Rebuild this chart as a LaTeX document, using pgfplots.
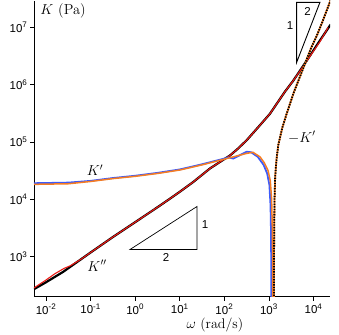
\documentclass[border=0pt]{standalone}
\usepackage{fontspec}
\setsansfont{Liberation Sans}
\usepackage{pgfplots}
\pgfplotsset{compat=1.18}
\definecolor{kblue}{RGB}{60,90,250}
\definecolor{korange}{RGB}{245,125,35}
\definecolor{kred}{RGB}{235,25,20}
\begin{document}
\begin{tikzpicture}
\begin{axis}[
 scale only axis, width=296pt, height=296pt,
 xmode=log, ymode=log, log basis x=10, log basis y=10,
 xmin=5.37e-3, xmax=2.34e4, ymin=200, ymax=2.95e7,
 axis lines=left, axis line style={-, line width=0.7pt},
 tick align=outside, major tick length=4pt, minor tick length=2.5pt,
 every tick/.style={black, line width=0.6pt},
 xtick={1e-2,1e-1,1,1e1,1e2,1e3,1e4},
 ytick={1e3,1e4,1e5,1e6,1e7},
 xticklabel={10\textsuperscript{\pgfmathtruncatemacro\e{round(\tick)}\e}},
 yticklabel={10\textsuperscript{\pgfmathtruncatemacro\e{round(\tick)}\e}},
 ticklabel style={font=\fontsize{11.5}{13}\selectfont\sffamily},
 yticklabel style={xshift=1pt},
 clip mode=individual,
]
% K'' black
\addplot[black, line width=2.2pt] coordinates {
(5.37e-3,269) (1e-2,355) (2.4e-2,537) (0.1,1175) (0.316,2188) (1,3981) (3.16,7244) (6.03,10230) (10,13490) (19.95,19950) (47.5,34430) (79.4,44670) (133.7,58080) (199.5,75860) (316.2,107150) (562.3,177830) (1047,309030) (2291,758580) (3508,1.175e6) (5888,2.138e6) (8222,3.162e6) (14125,6.026e6) (24155,1.122e7)
};
% K'' red
\addplot[kred, line width=1.1pt] coordinates {
(5.37e-3,282) (1e-2,389) (1.585e-2,501) (2.512e-2,617) (3.548e-2,692) (6.31e-2,912) (0.1,1175) (0.316,2188) (1,3981) (3.16,7244) (6.03,10230) (10,13490) (19.95,19950) (47.5,34430) (79.4,44670) (133.7,58080) (199.5,75860) (316.2,107150) (562.3,177830) (1047,309030) (2291,758580) (3508,1.175e6) (5888,2.1e6) (8222,3.09e6) (14125,5.75e6) (21300,1.0e7)
};
% K' blue
\addplot[kblue, line width=1.8pt] coordinates {
(5.37e-3,19050) (0.0316,19500) (0.1,20900) (0.316,23440) (1,25700) (3.16,28840) (10,33110) (31.6,40740) (100,51290) (125.9,53700) (158.5,51300) (223.9,58880) (316.2,67610) (398,66070) (562,54950) (758.6,39810) (912,28180) (1023,17780) (1084,7943) (1109,3000) (1122,1000) (1127,300) (1129,60)
};
% K' orange
\addplot[korange, line width=1.5pt] coordinates {
(5.37e-3,18200) (0.0316,18620) (0.1,20420) (0.316,22910) (1,25120) (3.16,28180) (10,32360) (31.6,39810) (100,50120) (199.5,57540) (316.2,63100) (436.5,66070) (631,54950) (794.3,42660) (955,31620) (1072,20890) (1148,10000) (1189,3162) (1205,1000) (1213,400) (1216,80)
};
% -K' orange + black dotted
\addplot[korange, line width=1.8pt] coordinates {
(1295,80) (1297,400) (1300,1000) (1312,3162) (1334,10000) (1380,25120) (1479,50120) (1622,89130) (1995,177830) (2512,316230) (3548,707950) (5012,1.413e6) (6310,2.239e6) (8913,4.467e6) (11750,7.079e6) (15850,1.259e7) (23990,2.951e7) (28000,4e7)
};
\addplot[black, line width=1.8pt, dash pattern=on 1.3pt off 1.3pt] coordinates {
(1295,80) (1297,400) (1300,1000) (1312,3162) (1334,10000) (1380,25120) (1479,50120) (1622,89130) (1995,177830) (2512,316230) (3548,707950) (5012,1.413e6) (6310,2.239e6) (8913,4.467e6) (11750,7.079e6) (15850,1.259e7) (23990,2.951e7) (28000,4e7)
};
% slope triangles
\draw[black, line width=0.7pt] (axis cs:0.764,1324) -- (axis cs:24.3,1324) -- (axis cs:24.3,7464) -- cycle;
\node[font=\fontsize{11.5}{13}\selectfont\sffamily] at (axis cs:4.9,955) {2};
\node[font=\fontsize{11.5}{13}\selectfont\sffamily] at (axis cs:36.7,3622) {1};
\draw[black, line width=0.9pt] (axis cs:4178,2.735e7) -- (axis cs:13900,2.735e7) -- (axis cs:4178,2.449e6) -- cycle;
\node[font=\fontsize{11.5}{13}\selectfont\sffamily] at (axis cs:2958,1.084e7) {1};
\node[font=\fontsize{11.5}{13}\selectfont\sffamily] at (axis cs:7379,1.905e7) {2};
% labels
\node[font=\fontsize{14.5}{16}\selectfont] at (axis cs:0.126,31620) {$K'$};
\node[font=\fontsize{14.5}{16}\selectfont] at (axis cs:0.139,692) {$K''$};
\node[font=\fontsize{14.5}{16}\selectfont] at (axis cs:5495,120230) {$-K'$};
\node[font=\fontsize{14.5}{16}\selectfont, anchor=west] at (rel axis cs:0.01,0.966) {$K$ (Pa)};
\node[font=\fontsize{14}{16}\selectfont] at (rel axis cs:0.611,0) [yshift=-28pt] {$\omega$ (rad/s)};
\end{axis}
\path (current axis.south west) ++(-34pt,-37pt) rectangle ++(339pt,333pt);
\end{tikzpicture}
\end{document}
